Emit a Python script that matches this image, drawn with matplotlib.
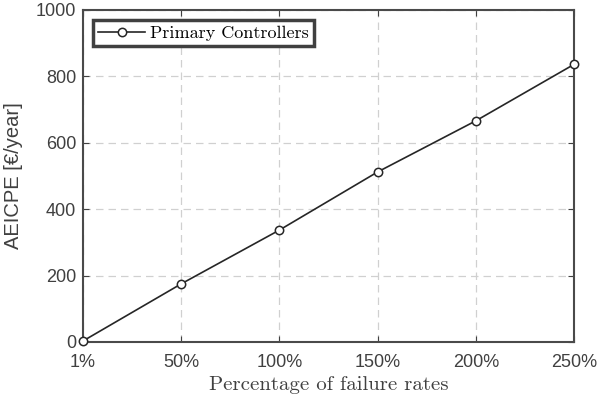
import matplotlib
matplotlib.use("Agg")
import matplotlib.pyplot as plt

# failure rate scenarios and the resulting cost
categories = ["1%", "50%", "100%", "150%", "200%", "250%"]
aeicpe = [3, 175, 337, 512, 666, 836]
series_name = "Primary Controllers"

fig = plt.figure(figsize=(6, 4.05), dpi=100)
ax = fig.add_axes([0.1383, 0.1556, 0.8183, 0.8198])

x = list(range(len(categories)))
ax.plot(x, aeicpe, color="#262626", linewidth=1.2, marker="o",
        markersize=6, markerfacecolor="white", markeredgecolor="#262626",
        markeredgewidth=1.1, label=series_name, clip_on=False, zorder=5)

ax.set_xlim(0, 5)
ax.set_ylim(0, 1000)
ax.set_xticks(x)
ax.set_xticklabels(categories)
ax.set_yticks(range(0, 1001, 200))

ax.grid(True, color="#d0d0d0", linestyle=(0, (6, 4)), linewidth=0.9)
ax.set_axisbelow(True)
ax.tick_params(direction="in", length=4, width=0.8, colors="#404040",
               labelsize=13, top=True, right=True)
ax.tick_params(axis="x", pad=9)
ax.tick_params(axis="y", pad=5)
for lbl in ax.get_xticklabels() + ax.get_yticklabels():
    lbl.set_fontfamily("Liberation Sans")
for s in ax.spines.values():
    s.set_color("#4a4a4a")
    s.set_linewidth(1.5)

ax.set_xlabel("Percentage of failure rates", fontfamily="cmr10",
              fontsize=15, color="#404040", labelpad=3)
ax.set_ylabel("AEICPE [€/year]", fontfamily="Liberation Sans",
              fontsize=14.5, color="#404040", labelpad=9)

leg = ax.legend(loc="upper left", prop={"family": "cmr10", "size": 13},
                fancybox=False, framealpha=1, borderpad=0.3,
                borderaxespad=0, handlelength=2.6, handletextpad=0.25,
                bbox_to_anchor=(0.02, 0.97))
leg.get_frame().set_edgecolor("#404040")
leg.get_frame().set_linewidth(2.5)

fig.savefig("out.png", dpi=100)
